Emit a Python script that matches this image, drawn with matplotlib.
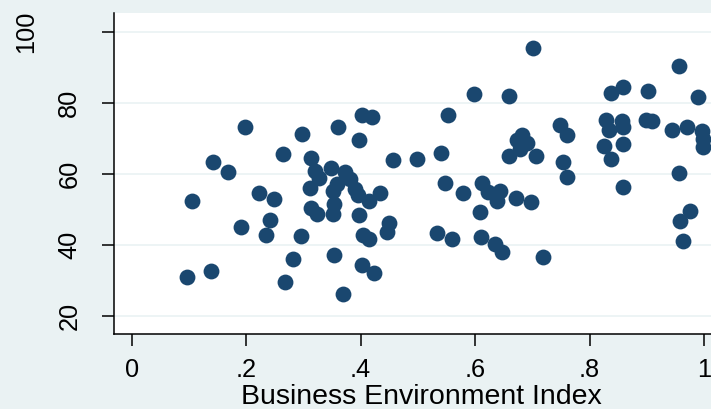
import matplotlib
matplotlib.use("Agg")
from matplotlib import pyplot as plt
from matplotlib.transforms import ScaledTranslation

# Business environment index (x) against the outcome score (y), one point per country
bei = [0.096, 0.138, 0.106, 0.142, 0.168, 0.198, 0.191, 0.222, 0.248, 0.242,
       0.235, 0.264, 0.281, 0.267, 0.295, 0.297, 0.313, 0.312, 0.320, 0.313,
       0.328, 0.324, 0.348, 0.358, 0.361, 0.354, 0.352, 0.354, 0.352, 0.373,
       0.382, 0.390, 0.370, 0.398, 0.402, 0.420, 0.398, 0.396, 0.405, 0.402,
       0.414, 0.415, 0.424, 0.434, 0.446, 0.450, 0.457, 0.498, 0.541, 0.552,
       0.534, 0.547, 0.559, 0.579, 0.598, 0.612, 0.623, 0.643, 0.638, 0.671,
       0.698, 0.608, 0.610, 0.634, 0.647, 0.719, 0.659, 0.701, 0.682, 0.673,
       0.690, 0.679, 0.659, 0.707, 0.748, 0.761, 0.753, 0.761, 0.837, 0.859,
       0.903, 0.956, 0.989, 0.829, 0.857, 0.898, 0.910, 0.834, 0.859, 0.944,
       0.970, 0.997, 0.999, 0.999, 0.826, 0.859, 0.838, 0.956, 0.859, 0.976,
       0.959, 0.963]
score = [30.9, 32.8, 52.5, 63.3, 60.6, 73.3, 45.0, 54.7, 52.9, 47.0,
         42.7, 65.5, 36.1, 29.6, 42.5, 71.2, 64.5, 56.1, 60.9, 50.3,
         59.0, 48.8, 61.8, 57.1, 73.2, 37.3, 48.6, 51.5, 55.3, 60.6,
         58.6, 55.7, 26.1, 69.6, 76.6, 76.0, 48.5, 54.1, 42.7, 34.4,
         41.6, 52.4, 32.0, 54.7, 43.7, 46.1, 63.9, 64.3, 65.8, 76.5,
         43.5, 57.4, 41.6, 54.7, 82.5, 57.4, 55.0, 55.3, 52.5, 53.2,
         52.0, 49.4, 42.3, 40.4, 38.1, 36.7, 82.0, 95.4, 71.1, 69.6,
         68.6, 67.0, 65.2, 65.0, 73.7, 71.0, 63.3, 59.2, 82.9, 84.6,
         83.5, 90.3, 81.7, 75.2, 75.0, 75.3, 75.0, 72.3, 73.2, 72.3,
         73.2, 72.2, 69.8, 67.7, 68.0, 68.5, 64.1, 60.4, 56.4, 49.7,
         46.8, 41.0]

xticks = [0, 0.2, 0.4, 0.6, 0.8, 1.0]
xtick_labels = ["0", ".2", ".4", ".6", ".8", "1"]
yticks = [20, 40, 60, 80, 100]

navy = "#1A476F"
bg = "#EAF2F3"

plt.rcParams["font.family"] = ["Liberation Sans", "DejaVu Sans"]

fig = plt.figure(figsize=(7.11, 4.09), dpi=100, facecolor=bg)
ax = fig.add_axes([0.1603, 0.1834, 0.8636, 0.7848])
ax.set_facecolor("white")

ax.scatter(bei, score, s=130, color=navy, linewidths=0, zorder=3)

ax.set_xlim(-0.031, 1.042)
ax.set_ylim(14.93, 105.35)

ax.set_xticks(xticks)
ax.set_xticklabels(xtick_labels)
ax.set_yticks(yticks)
ax.set_yticklabels([str(v) for v in yticks], rotation=90, va="center")

ax.grid(axis="y", color=bg, linewidth=1.2, zorder=0)
ax.set_axisbelow(True)

for side in ["top", "right"]:
    ax.spines[side].set_visible(False)
for side in ["left", "bottom"]:
    ax.spines[side].set_linewidth(1.1)
    ax.spines[side].set_color("black")

ax.tick_params(axis="both", direction="out", length=8.5, width=1.1,
               labelsize=18.3, colors="black")
ax.tick_params(axis="x", pad=9)
ax.tick_params(axis="y", pad=15)

# the top label sits further out from the axis
lab = ax.get_yticklabels()[-1]
lab.set_transform(lab.get_transform() + ScaledTranslation(-31 / 72, 0, fig.dpi_scale_trans))

ax.set_xlabel("Business Environment Index", fontsize=20.5, labelpad=1)

fig.savefig("out.png", dpi=100, facecolor=bg)
